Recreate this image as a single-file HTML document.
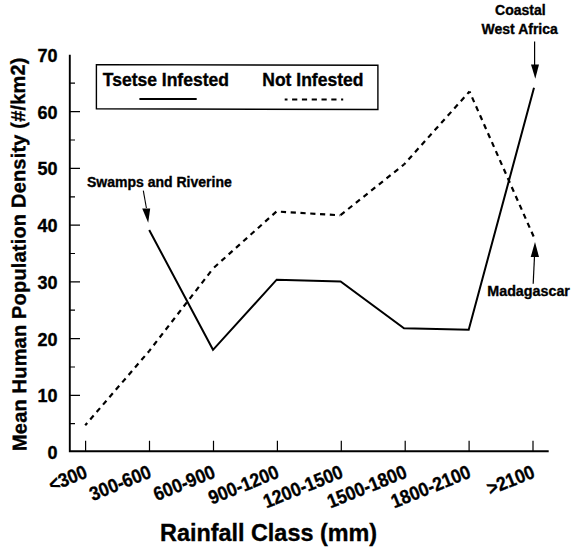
<!DOCTYPE html>
<html><head><meta charset="utf-8">
<style>
html,body{margin:0;padding:0;background:#fff;width:575px;height:549px;overflow:hidden}
svg{display:block}
text{font-family:"Liberation Sans",sans-serif;font-weight:bold;fill:#000;stroke:#000;stroke-width:0.35px}
</style></head><body>
<svg width="575" height="549" viewBox="0 0 575 549">
<rect width="575" height="549" fill="#fff"/>
<!-- axes -->
<path d="M69.8 54.8 V451.2 H548.7" fill="none" stroke="#000" stroke-width="1.9"/>
<!-- y ticks major -->
<g stroke="#000" stroke-width="1.2">
<path d="M70 111.6 H80 M70 168.4 H80 M70 225.1 H80 M70 281.9 H80 M70 338.6 H80 M70 395.3 H80"/>
<path d="M70 83.2 H75 M70 140 H75 M70 196.8 H75 M70 253.5 H75 M70 310.2 H75 M70 367 H75 M70 423.7 H75"/>
</g>
<!-- x ticks -->
<g stroke="#000" stroke-width="1.2">
<path d="M85.6 440.8 V451 M149.5 440.8 V451 M213.5 440.8 V451 M277.4 440.8 V451 M341.3 440.8 V451 M405.2 440.8 V451 M469.1 440.8 V451 M533 440.8 V451"/>
</g>
<!-- y labels -->
<g font-size="18" text-anchor="end">
<text x="57.5" y="61.8">70</text>
<text x="57.5" y="118.6">60</text>
<text x="57.5" y="175.4">50</text>
<text x="57.5" y="232.1">40</text>
<text x="57.5" y="288.9">30</text>
<text x="57.5" y="345.6">20</text>
<text x="57.5" y="402.3">10</text>
<text x="57.5" y="459">0</text>
</g>
<!-- y title -->
<text font-size="20" textLength="393.5" lengthAdjust="spacing" transform="translate(26.5 451) rotate(-90.25)">Mean Human Population Density (#/km2)</text>
<!-- x labels -->
<g font-size="19.5" text-anchor="end">
<text transform="translate(88.6 477) rotate(-22) scale(0.9 1)">&lt;300</text>
<text transform="translate(152.5 477) rotate(-22) scale(0.9 1)">300-600</text>
<text transform="translate(216.5 477) rotate(-22) scale(0.9 1)">600-900</text>
<text transform="translate(280.4 477) rotate(-22) scale(0.9 1)">900-1200</text>
<text transform="translate(344.3 477) rotate(-22) scale(0.9 1)">1200-1500</text>
<text transform="translate(408.2 477) rotate(-22) scale(0.9 1)">1500-1800</text>
<text transform="translate(472.1 477) rotate(-22) scale(0.9 1)">1800-2100</text>
<text transform="translate(536.0 477) rotate(-22) scale(0.9 1)">&gt;2100</text>
</g>
<!-- x title -->
<text font-size="23.4" x="160" y="541">Rainfall Class (mm)</text>
<!-- legend -->
<path d="M96.4 64.6 L377.9 65.3 L377.9 109.5 L96.4 108.8 Z" fill="none" stroke="#000" stroke-width="1.4"/>
<text font-size="17.5" x="102.8" y="85.7">Tsetse Infested</text>
<text font-size="17.5" x="262.3" y="86">Not Infested</text>
<path d="M139.4 99.1 H196.7" stroke="#000" stroke-width="2"/>
<path d="M284.7 99.5 H343.2" stroke="#000" stroke-width="2.2" stroke-dasharray="5.2 4.6" stroke-dashoffset="2.4"/>
<!-- data -->
<polyline points="149.2,230 213,349.8 276.7,279.7 340.6,281.4 404,328.3 468.7,329.7 534,87.7" fill="none" stroke="#000" stroke-width="2" stroke-linejoin="miter"/>
<g fill="none" stroke="#000" stroke-width="2.2" stroke-dasharray="5.2 4.6">
<path d="M85.2 425.3 L149 351.3" stroke-dashoffset="2.1"/>
<path d="M149 351.3 L213.5 268" stroke-dashoffset="2.2"/>
<path d="M213.5 268 L276.5 211.5" stroke-dashoffset="9.0"/>
<path d="M276.5 211.5 L340.3 215.3" stroke-dashoffset="5.4"/>
<path d="M340.3 215.3 L404 164.5" stroke-dashoffset="9.5"/>
<path d="M404 164.5 L469.5 91.5" stroke-dashoffset="3.1"/>
<path d="M469.5 91.5 L534.5 238.5" stroke-dashoffset="3.4"/>
</g>
<!-- annotations -->
<text font-size="14" x="87" y="186.7">Swamps and Riverine</text>
<path d="M143.3 190.6 L146.4 208" stroke="#000" stroke-width="1.1" fill="none"/>
<path d="M142.2 208.4 L150.2 208.4 L148.2 222.8 Z" fill="#000"/>
<text font-size="14" x="520.4" y="15" text-anchor="middle">Coastal</text>
<text font-size="14" x="519.7" y="34.2" text-anchor="middle">West Africa</text>
<path d="M534.6 41.5 V65" stroke="#000" stroke-width="1.2"/>
<path d="M531 64.5 L539 64.5 L535.3 78.8 Z" fill="#000"/>
<text font-size="14.3" x="528.6" y="296.2" text-anchor="middle">Madagascar</text>
<path d="M533.2 283.7 L534.5 256" stroke="#000" stroke-width="1.2"/>
<path d="M530.7 257 L539 257 L535 241.9 Z" fill="#000"/>
</svg>
</body></html>
